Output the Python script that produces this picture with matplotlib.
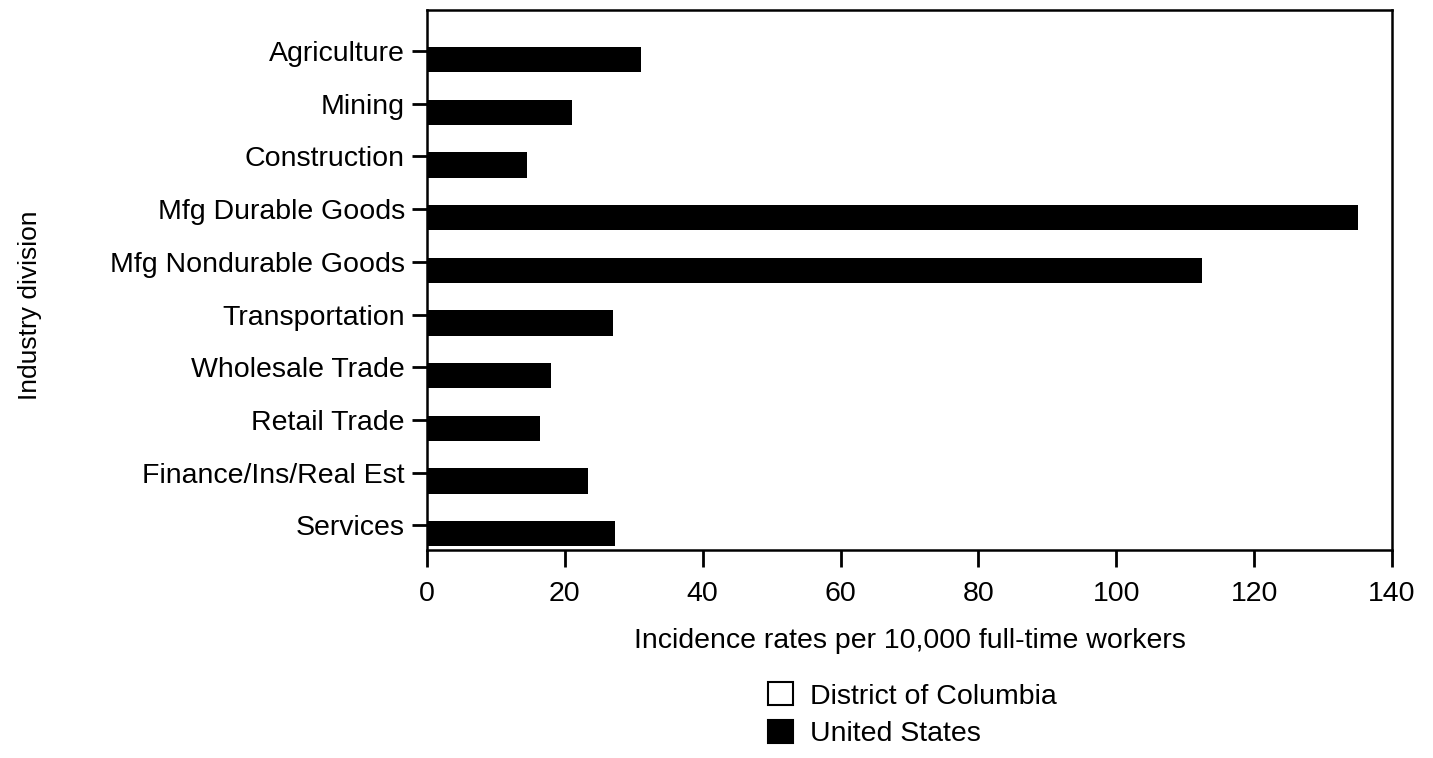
import numpy as np
import matplotlib.pyplot as plt
from matplotlib.patches import Patch

plt.rcParams['font.family'] = ['Liberation Sans', 'DejaVu Sans']

# incidence rates per 10,000 full-time workers
industries = ["Agriculture", "Mining", "Construction", "Mfg Durable Goods",
              "Mfg Nondurable Goods", "Transportation", "Wholesale Trade",
              "Retail Trade", "Finance/Ins/Real Est", "Services"]
dc_rates = [0, 0, 0, 0, 0, 0, 0, 0, 0, 0]
us_rates = [31, 21, 14.5, 135, 112.5, 27, 18, 16.4, 23.3, 27.3]
xticks = [0, 20, 40, 60, 80, 100, 120, 140]

fig = plt.figure(figsize=(14.33, 7.58), dpi=100)
ax = fig.add_axes([0.298, 0.2744, 0.6734, 0.7124])

y = np.arange(len(industries))
h = 0.48
ax.barh(y - 0.31, dc_rates, height=h, color="white", edgecolor="black", linewidth=0)
ax.barh(y + 0.16, us_rates, height=h, color="black", edgecolor="black", linewidth=0)

ax.set_xlim(0, 140)
ax.set_ylim(9.47, -0.78)
ax.set_xticks(xticks)
ax.set_yticks(y)
ax.set_yticklabels(industries)

for s in ax.spines.values():
    s.set_linewidth(1.8)
ax.tick_params(axis="y", length=11, width=2, pad=5, labelsize=20.5)
ax.tick_params(axis="x", length=12, width=2, pad=10, labelsize=20.5)

ax.set_xlabel("Incidence rates per 10,000 full-time workers", fontsize=20.5, labelpad=15.5)
fig.text(30 / 1433, 1 - 305 / 758, "Industry division", rotation=90,
         fontsize=19, ha="center", va="center")

handles = [Patch(facecolor="white", edgecolor="black", linewidth=1.5),
           Patch(facecolor="black", edgecolor="black", linewidth=1.5)]
fig.legend(handles, ["District of Columbia", "United States"],
           loc="upper left", bbox_to_anchor=(754 / 1433, 1 - 668 / 758),
           frameon=False, fontsize=20.5, handlelength=0.88, handleheight=0.88,
           handletextpad=0.6, labelspacing=0.36, borderpad=0)

fig.savefig("out.png", dpi=100)
